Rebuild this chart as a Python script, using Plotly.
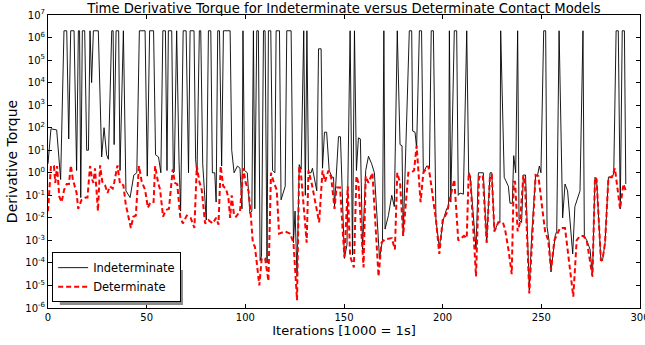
import plotly.graph_objects as go

# Indeterminate model: iteration and log10(derivative torque)
ind_x = [0, 1.5, 4.4, 6.4, 8.1, 9.5, 10.5, 11.5, 13.2, 14.5, 15.4, 16.0, 16.6, 17.4, 18.6, 19.6, 20.5,
         21.3, 22.1, 23.0, 25.5, 27.2, 28.4, 29.7, 30.6, 32.3, 33.0, 33.5, 34.5, 35.8, 36.5, 38.2,
         39.5, 41.6, 43.5, 45.0, 46.3, 49.2, 50.3, 51.5, 53.5, 54.5, 56.0, 57.2, 58.2, 59.5, 60.3,
         61.0, 62.7, 63.5, 64.0, 65.2, 66.4, 67.2, 68.5, 70.0, 71.2, 72.0, 74.0, 74.8, 75.5, 76.7,
         77.4, 78.4, 80.2, 81.3, 82.5, 83.3, 84.5, 85.2, 86.0, 86.9, 88.0, 88.9, 92.3, 93.1, 94.3,
         96.0, 97.3, 98.3, 98.8, 99.6, 101.0, 102.3, 103.3, 104.1, 104.8, 105.8, 106.6, 107.5, 108.2,
         109.2, 110.0, 111.0, 111.7, 112.9, 113.8, 115.0, 115.6, 117.3, 118.1, 120.2, 121.0, 123.2,
         124.4, 125.2, 126.2, 127.3, 128.3, 129.6, 130.4, 131.2, 132.0, 133.3, 134.0, 135.0, 136.2,
         137.1, 138.4, 139.1, 140.1, 141.2, 142.5, 144.0, 144.7, 145.2, 146.2, 147.2, 148.2, 150.2,
         151.5, 153.1, 154.3, 155.3, 156.3, 157.3, 158.3, 159.4, 161.0, 162.4, 164.0, 165.4, 168.0,
         169.5, 170.2, 170.8, 172.5, 174.2, 175.5, 177.0, 178.4, 179.4, 180.0, 183.1, 184.3, 184.8,
         186.0, 186.8, 188.2, 189.3, 190.2, 191.9, 193.3, 194.2, 195.3, 196.6, 198.3, 200.3, 202.0,
         203.0, 203.4, 204.1, 205.9, 207.1, 207.9, 208.8, 210.5, 212.2, 213.2, 214.0, 216.9, 218.1,
         220.6, 222.3, 224.0, 224.9, 226.2, 228.2, 229.0, 229.4, 231.2, 233.3, 234.1, 235.3, 236.0,
         237.0, 238.0, 238.7, 240.0, 240.9, 242.0, 243.9, 245.1, 247.1, 248.0, 249.0, 249.8, 251.2,
         252.2, 252.9, 253.9, 254.9, 257.0, 257.8, 259.0, 260.8, 262.0, 263.3, 265.9, 267.0, 269.6,
         271.1, 271.8, 273.0, 274.7, 275.9, 277.2, 278.0, 280.2, 281.0, 282.3, 284.0, 286.0, 286.7,
         287.9, 289.0, 290.0, 291.0, 292.1, 292.8]
ind_exp = [0.4, 1.95, 1.9, -0.3, 6.3, 6.3, 1.5, 6.3, 6.3, 0.1, 6.3, 6.3, -1.1, 6.3, 6.3, 1.0, 1.0,
           6.3, 4.0, 6.3, 6.3, 0.7, 2.0, 0.8, 0.6, 6.3, 6.3, 1.25, 6.3, 6.3, 0.1, 6.3,
           -0.8, -1.1, -0.1, 0.0, 6.3, 6.3, -0.15, 6.3, 6.3, 0.8, 0.7, 0.0, 6.3, 6.3, 0.1,
           6.3, 6.3, 0.0, 0.05, 6.3, 0.5, -1.7, 6.3, 6.3, 0.0, 6.3, 6.3, 0.6, -0.1, 6.3,
           6.3, 0.4, -2.1, 6.3, 6.3, 0.0, 0.0, -1.3, 6.3, 6.3, 0.3, 6.3, 6.3, 1.0, 0.0,
           0.3, 0.2, -1.6, 6.3, 0.1, 0.0, -1.8, -1.7, 6.3, -1.6, 6.3, 6.3, -3.9, -3.7,
           6.3, 6.3, -4.0, 6.3, 6.3, 0.1, 0.0, 6.3, 6.3, -1.2, -0.6, 6.3, 6.3,
           -3.1, -1.7, -4.6, 0.36, 0.15, 6.3, -1.0, 6.3, 0.0, 0.0, 0.2, -0.2, -0.8,
           5.5, 5.5, 0.2, 1.8, 1.8, 0.1, -0.2, -0.2, -1.5, 0.3, 1.6, 1.6, -3.8,
           -3.2, 6.3, -3.65, 6.3, 0.1, 1.55, 1.5, -3.4, 0.1, 0.73, 0.4, 0.0, -3.8,
           -3.0, 6.3, -2.5, -1.9, -1.0, -1.5, 6.3, 1.25, 1.2, -2.8, 6.3, 6.3, 1.85,
           1.8, 1.1, 6.3, 6.3, 0.0, 0.3, 0.2, 6.3, 6.3, -2.1, -3.3, -2.1, -1.6,
           -1.6, 6.3, -1.3, 6.3, 6.3, -1.0, -0.9, -0.95, 6.3, -0.15, -0.2, -3.4, 0.0,
           0.0, -3.1, 0.0, 0.0, -2.6, -2.2, -2.2, 6.3, -0.2, -0.6, -1.35, -1.35, 0.76,
           0.0, 6.3, -2.1, -2.2, -0.1, -0.1, -5.2, -2.8, -0.1, -0.15, 0.3, 0.0, 6.3,
           6.3, -2.4, -3.0, -4.4, -2.8, -2.6, 6.3, -2.0, -0.5, -0.8, -3.6, -1.5, -0.8,
           6.3, -2.8, -3.0, -3.4, -4.6, -0.2, -0.3, -3.9, -3.9, -3.1, -0.2, -0.2, 0.0,
           6.3, 6.3, -1.6, 6.3, 6.3, -0.5]

# Determinate model
det_x = [0.0, 1.5, 3.0, 3.7, 4.6, 5.7, 6.9, 8.2, 9.5, 10.6, 11.6, 12.6, 14.5, 15.3, 17.0, 19.0, 20.0,
         21.3, 22.4, 23.0, 23.8, 25.3, 26.4, 27.5, 28.9, 30.2, 31.3, 32.8, 33.5, 35.2, 36.5, 38.2,
         39.4, 40.7, 42.0, 43.2, 44.5, 46.1, 47.5, 49.2, 50.6, 52.0, 53.5, 54.3, 55.8, 56.8, 58.3,
         59.8, 61.3, 63.2, 64.3, 65.5, 67.0, 68.3, 70.3, 72.3, 74.2, 75.4, 76.7, 77.9, 78.7, 79.6,
         81.3, 83.5, 85.2, 86.4, 87.5, 88.8, 90.2, 91.4, 92.3, 93.1, 94.3, 95.3, 97.3, 99.0, 100.2,
         101.6, 102.7, 103.8, 104.9, 107.1, 108.3, 110.0, 111.7, 113.0, 114.5, 115.9, 117.1, 120.2,
         122.7, 124.4, 126.2, 127.3, 128.3, 131.1, 132.0, 133.7, 137.4, 139.1, 140.4, 142.1, 143.5,
         145.2, 146.2, 148.0, 150.2, 151.9, 153.1, 155.0, 156.3, 157.3, 159.9, 161.0, 162.4, 164.4,
         167.5, 169.0, 170.8, 174.2, 175.8, 177.0, 178.4, 180.0, 182.6, 183.8, 185.5, 186.8, 188.8,
         190.2, 192.7, 193.5, 196.6, 198.3, 200.0, 202.0, 205.9, 207.9, 210.8, 212.2, 213.2, 214.0,
         216.9, 218.4, 220.3, 222.3, 224.0, 224.9, 226.2, 228.2, 230.5, 231.6, 233.5, 235.0, 236.0,
         236.7, 238.0, 239.2, 240.9, 241.7, 243.9, 245.4, 247.1, 248.5, 251.9, 253.5, 254.9, 256.6,
         259.5, 262.0, 266.2, 267.9, 269.6, 271.3, 273.0, 275.9, 277.2, 278.0, 280.2, 281.0, 282.3,
         284.0, 285.7, 287.3, 288.5, 289.9, 291.6, 292.8]
det_exp = [-1.7, 0.3, 0.3, -0.45, 0.3, -1.05, -1.3, -0.75, -0.5, -0.5, 0.33, -0.3, -0.9, -1.6, -1.2, -1.1, -1.1,
           0.3, -0.3, -0.45, 0.2, -1.7, 0.33, -0.4, -0.55, -0.9, -0.6, -0.7, -0.45, 0.33, -0.5, -0.55,
           -1.4, -1.95, -2.45, -1.95, -1.9, 0.3, -0.4, -0.75, -1.55, -1.3, -1.3, 0.3, -0.45, -0.75, -1.95,
           -1.65, -1.6, 0.15, -0.45, -0.5, -1.95, -2.25, -1.9, -2.0, -2.45, 0.3, -0.4, -0.75, -1.4, -2.25,
           -2.1, -2.25, -2.0, -2.3, 0.3, -0.6, -0.7, -1.1, -2.0, -1.0, -1.9, -1.95, -1.7, 0.2, -0.45,
           -0.8, -1.8, -3.1, -3.3, -5.0, -3.8, -3.8, -4.8, 0.0, -0.45, -0.75, -2.7, -2.6,
           -2.7, -3.1, -5.65, 0.3, -0.15, -3.1, 0.1, -0.5, -2.2, 0.1, -0.4, 0.1, -0.2,
           -1.6, -0.65, -0.65, -3.75, -0.6, -3.7, -4.2, -0.15, -0.45, -4.2, -0.15, -0.45, 0.0,
           -4.6, -3.1, -2.95, -2.9, -3.4, 0.0, -0.45, -2.8, 0.0, 0.0, 0.1, 1.2, -1.3,
           0.0, 0.3, -0.1, -2.1, -3.6, -2.1, -1.8, -0.3, -3.0, -2.8, -2.9, 0.0, -0.2,
           -4.6, -0.2, -0.1, -3.1, -0.1, -0.1, -2.6, -2.2, -2.2, -2.5, -3.5, -4.5, -0.4,
           -0.4, -2.6, -2.2, -0.1, -0.4, -5.35, -3.1, -0.1, -0.15, -2.6, -3.0, -4.3, -3.0,
           -2.45, -2.45, -5.5, -3.0, -2.8, -2.8, -3.0, -4.6, -0.2, -0.3, -3.9, -3.85, -3.1,
           -0.2, -0.2, 0.2, -0.7, -1.6, -0.5, -0.8]

x_ticks = [0, 50, 100, 150, 200, 250, 300]
y_exps = list(range(-6, 8))

ind_y = [10 ** e for e in ind_exp]
det_y = [10 ** e for e in det_exp]

FONT = "DejaVu Sans"

fig = go.Figure()
fig.add_trace(go.Scatter(x=ind_x, y=ind_y, mode="lines", name="Indeterminate",
                         line=dict(color="black", width=0.9)))
fig.add_trace(go.Scatter(x=det_x, y=det_y, mode="lines", name="Determinate",
                         line=dict(color="red", width=2, dash="5px,3px")))

axis_common = dict(showline=True, linecolor="black", linewidth=1, mirror="allticks",
                   ticks="inside", ticklen=4, tickcolor="black", showgrid=False, zeroline=False,
                   automargin=False, ticklabeloverflow="allow",
                   tickfont=dict(family=FONT, size=10, color="black"))

fig.update_xaxes(range=[0, 300], tickvals=x_ticks, ticktext=[str(v) for v in x_ticks],
                 title=dict(text="Iterations [1000 = 1s]", font=dict(family=FONT, size=13, color="black"),
                            standoff=2),
                 **axis_common)
fig.update_yaxes(type="log", range=[-6, 7], tickvals=[10 ** e for e in y_exps],
                 ticktext=["10<sup>%d</sup>" % e for e in y_exps],
                 title=dict(text="Derivative Torque", font=dict(family=FONT, size=14, color="black"),
                            standoff=4),
                 **axis_common)

# legend shadow
fig.add_shape(type="rect", xref="paper", yref="paper", x0=0.02, x1=0.228, y0=0.01, y1=0.13,
              fillcolor="#8c8c8c", line=dict(width=0), layer="above")

fig.update_layout(
    width=645, height=345,
    margin=dict(l=48, r=5, t=15, b=37),
    paper_bgcolor="white", plot_bgcolor="white",
    title=dict(text="Time Derivative Torque for Indeterminate versus Determinate Contact Models",
               xref="paper", x=0.5, xanchor="center", yref="container", y=0.977, yanchor="middle",
               pad=dict(t=0, b=0),
               font=dict(family=FONT, size=13.2, color="black")),
    legend=dict(x=0.007, y=0.02, xanchor="left", yanchor="bottom",
                bgcolor="white", bordercolor="black", borderwidth=1,
                font=dict(family=FONT, size=11.5, color="black"),
                tracegroupgap=0, itemwidth=30),
    showlegend=True,
)

fig.write_html("out.html", config={"displayModeBar": False},
               post_script="document.body.style.margin='0px';")
